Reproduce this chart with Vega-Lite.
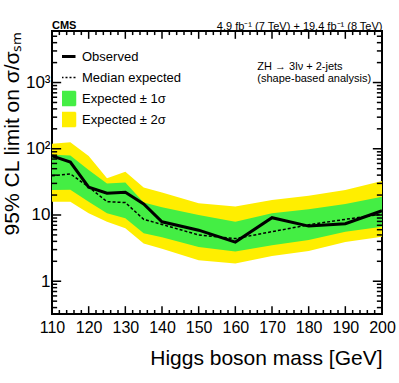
{
  "$schema": "https://vega.github.io/schema/vega-lite/v6.json",
  "width": 330,
  "height": 283,
  "autosize": "none",
  "padding": {"left": 52, "top": 31, "right": 17, "bottom": 69},
  "background": "white",
  "config": {
    "font": "Liberation Sans",
    "view": {"stroke": "black", "strokeWidth": 2},
    "axis": {"grid": false, "domain": false, "ticks": false, "labelColor": "black", "titleColor": "black", "labelFont": "Liberation Sans", "titleFont": "Liberation Sans", "titleFontWeight": "normal", "labelOverlap": false, "labelFlush": false}
  },
  "title": {"text": "CMS", "anchor": "start", "frame": "group", "fontSize": 11, "fontWeight": "bold", "font": "Liberation Sans", "offset": -11, "color": "black"},
  "datasets": {
    "bands": [
      {"mass": 110, "obs": 78, "exp": 39, "lo1": 23.9, "hi1": 81, "lo2": 15.9, "hi2": 119},
      {"mass": 115, "obs": 63, "exp": 41.8, "lo1": 24, "hi1": 79, "lo2": 15.9, "hi2": 125},
      {"mass": 120, "obs": 26.3, "exp": 26.5, "lo1": 15.9, "hi1": 48, "lo2": 10.6, "hi2": 78},
      {"mass": 125, "obs": 21.3, "exp": 15.9, "lo1": 10.6, "hi1": 30, "lo2": 7.9, "hi2": 36},
      {"mass": 130, "obs": 22.1, "exp": 15.4, "lo1": 8.9, "hi1": 31, "lo2": 6.3, "hi2": 45},
      {"mass": 135, "obs": 14.7, "exp": 8.6, "lo1": 5.3, "hi1": 15.4, "lo2": 3.7, "hi2": 26},
      {"mass": 140, "obs": 7.9, "exp": 7.2, "lo1": 4.6, "hi1": 13.1, "lo2": 3.1, "hi2": 21.8},
      {"mass": 150, "obs": 5.9, "exp": 5.0, "lo1": 3.3, "hi1": 10, "lo2": 2.08, "hi2": 15},
      {"mass": 160, "obs": 3.9, "exp": 4.4, "lo1": 2.8, "hi1": 7.9, "lo2": 1.85, "hi2": 13.4},
      {"mass": 170, "obs": 9.1, "exp": 5.6, "lo1": 3.5, "hi1": 10.6, "lo2": 2.4, "hi2": 16.9},
      {"mass": 180, "obs": 6.8, "exp": 7.1, "lo1": 4.2, "hi1": 12.2, "lo2": 2.85, "hi2": 19.6},
      {"mass": 190, "obs": 7.4, "exp": 8.6, "lo1": 5.6, "hi1": 14.7, "lo2": 3.9, "hi2": 23.9},
      {"mass": 200, "obs": 11.6, "exp": 10.3, "lo1": 6.65, "hi1": 18.9, "lo2": 4.7, "hi2": 32.7}
    ],
    "xmajor": [{"v": 110}, {"v": 120}, {"v": 130}, {"v": 140}, {"v": 150}, {"v": 160}, {"v": 170}, {"v": 180}, {"v": 190}, {"v": 200}],
    "xminor": [{"v": 112}, {"v": 114}, {"v": 116}, {"v": 118}, {"v": 122}, {"v": 124}, {"v": 126}, {"v": 128}, {"v": 132}, {"v": 134}, {"v": 136}, {"v": 138}, {"v": 142}, {"v": 144}, {"v": 146}, {"v": 148}, {"v": 152}, {"v": 154}, {"v": 156}, {"v": 158}, {"v": 162}, {"v": 164}, {"v": 166}, {"v": 168}, {"v": 172}, {"v": 174}, {"v": 176}, {"v": 178}, {"v": 182}, {"v": 184}, {"v": 186}, {"v": 188}, {"v": 192}, {"v": 194}, {"v": 196}, {"v": 198}],
    "ymajor": [{"v": 1}, {"v": 10}, {"v": 100}, {"v": 1000}],
    "yminor": [{"v": 0.4}, {"v": 0.5}, {"v": 0.6}, {"v": 0.7}, {"v": 0.8}, {"v": 0.9}, {"v": 2}, {"v": 3}, {"v": 4}, {"v": 5}, {"v": 6}, {"v": 7}, {"v": 8}, {"v": 9}, {"v": 20}, {"v": 30}, {"v": 40}, {"v": 50}, {"v": 60}, {"v": 70}, {"v": 80}, {"v": 90}, {"v": 200}, {"v": 300}, {"v": 400}, {"v": 500}, {"v": 600}, {"v": 700}, {"v": 800}, {"v": 900}, {"v": 2000}, {"v": 3000}, {"v": 4000}, {"v": 5000}]
  },
  "resolve": {"axis": {"x": "independent"}},
  "layer": [
    {
      "data": {"name": "bands"},
      "mark": {"type": "area", "color": "#ffee00", "opacity": 1},
      "encoding": {
        "x": {"field": "mass", "type": "quantitative", "scale": {"domain": [110, 200], "nice": false, "zero": false},
          "axis": {"orient": "bottom", "values": [110, 120, 130, 140, 150, 160, 170, 180, 190, 200], "labelPadding": 5, "labelFontSize": 16, "title": "Higgs boson mass [GeV]", "titleFontSize": 21, "titleAnchor": "end", "titlePadding": 12}},
        "y": {"field": "lo2", "type": "quantitative", "scale": {"type": "log", "domain": [0.32, 6000], "nice": false},
          "axis": {"orient": "left", "values": [1, 10, 100, 1000], "labelPadding": 2, "labelFontSize": 17,
            "labelExpr": "datum.value == 1 ? '1' : datum.value == 10 ? '10' : datum.value == 100 ? '10²' : '10³'",
            "title": "95% CL limit on σ/σₛₘ", "titleFontSize": 21, "titleAnchor": "end", "titlePadding": 3}},
        "y2": {"field": "hi2"}
      }
    },
    {
      "data": {"name": "bands"},
      "mark": {"type": "area", "color": "#44ee44", "opacity": 1},
      "encoding": {
        "x": {"field": "mass", "type": "quantitative", "axis": null},
        "y": {"field": "lo1", "type": "quantitative"},
        "y2": {"field": "hi1"}
      }
    },
    {
      "mark": {"type": "rule", "color": "#cc0000", "strokeWidth": 1},
      "encoding": {"y": {"datum": 1, "type": "quantitative"}}
    },
    {
      "data": {"name": "bands"},
      "mark": {"type": "line", "color": "black", "strokeWidth": 1.5, "strokeDash": [3, 2]},
      "encoding": {
        "x": {"field": "mass", "type": "quantitative",
          "axis": {"orient": "top", "values": [110], "labels": false, "title": "4.9 fb⁻¹ (7 TeV) + 19.4 fb⁻¹ (8 TeV)", "titleFontSize": 11, "titleAnchor": "end", "titlePadding": 0}},
        "y": {"field": "exp", "type": "quantitative"}
      }
    },
    {
      "data": {"name": "bands"},
      "mark": {"type": "line", "strokeWidth": 3},
      "encoding": {
        "x": {"field": "mass", "type": "quantitative", "axis": null},
        "y": {"field": "obs", "type": "quantitative"},
        "color": {"datum": "Observed", "type": "nominal",
          "scale": {"domain": ["Observed", "Median expected", "Expected ± 1σ", "Expected ± 2σ"], "range": ["black", "black", "#44ee44", "#ffee00"]},
          "legend": {"title": null, "orient": "none", "legendX": 10, "legendY": 15, "labelFontSize": 13, "labelFont": "Liberation Sans", "labelColor": "black", "symbolSize": 196, "rowPadding": 0, "clipHeight": 21, "labelOffset": 7,
            "encode": {"symbols": {"update": {
              "shape": {"signal": "datum.value == 'Observed' || datum.value == 'Median expected' ? 'stroke' : 'square'"},
              "fill": {"signal": "datum.value == 'Expected ± 1σ' ? '#44ee44' : datum.value == 'Expected ± 2σ' ? '#ffee00' : 'transparent'"},
              "stroke": {"signal": "datum.value == 'Expected ± 1σ' || datum.value == 'Expected ± 2σ' ? 'transparent' : 'black'"},
              "strokeWidth": {"signal": "datum.value == 'Observed' ? 3 : 1.5"},
              "strokeDash": {"signal": "datum.value == 'Median expected' ? [2, 2] : [1, 0]"},
              "opacity": {"value": 1}
            }}}}}
      }
    },
    {
      "data": {"values": [{"note": "ZH → 3lν + 2-jets\n(shape-based analysis)"}]},
      "mark": {"type": "text", "align": "left", "baseline": "top", "fontSize": 11, "font": "Liberation Sans", "color": "black", "lineHeight": 12, "lineBreak": "\n"},
      "encoding": {
        "x": {"datum": 166, "type": "quantitative", "axis": null},
        "y": {"datum": 2100, "type": "quantitative"},
        "text": {"field": "note", "type": "nominal"}
      }
    },
    {
      "data": {"name": "xmajor"},
      "mark": {"type": "rule", "color": "black", "strokeWidth": 1.5},
      "encoding": {"x": {"field": "v", "type": "quantitative", "axis": null}, "y": {"datum": 0.32, "type": "quantitative"}, "y2": {"datum": 0.42}}
    },
    {
      "data": {"name": "xmajor"},
      "mark": {"type": "rule", "color": "black", "strokeWidth": 1.5},
      "encoding": {"x": {"field": "v", "type": "quantitative", "axis": null}, "y": {"datum": 6000, "type": "quantitative"}, "y2": {"datum": 4570}}
    },
    {
      "data": {"name": "xminor"},
      "mark": {"type": "rule", "color": "black", "strokeWidth": 1.5},
      "encoding": {"x": {"field": "v", "type": "quantitative", "axis": null}, "y": {"datum": 0.32, "type": "quantitative"}, "y2": {"datum": 0.368}}
    },
    {
      "data": {"name": "xminor"},
      "mark": {"type": "rule", "color": "black", "strokeWidth": 1.5},
      "encoding": {"x": {"field": "v", "type": "quantitative", "axis": null}, "y": {"datum": 6000, "type": "quantitative"}, "y2": {"datum": 5210}}
    },
    {
      "data": {"name": "ymajor"},
      "mark": {"type": "rule", "color": "black", "strokeWidth": 1.5},
      "encoding": {"y": {"field": "v", "type": "quantitative"}, "x": {"datum": 110, "type": "quantitative", "axis": null}, "x2": {"datum": 112.5}}
    },
    {
      "data": {"name": "ymajor"},
      "mark": {"type": "rule", "color": "black", "strokeWidth": 1.5},
      "encoding": {"y": {"field": "v", "type": "quantitative"}, "x": {"datum": 200, "type": "quantitative", "axis": null}, "x2": {"datum": 197.5}}
    },
    {
      "data": {"name": "yminor"},
      "mark": {"type": "rule", "color": "black", "strokeWidth": 1.5},
      "encoding": {"y": {"field": "v", "type": "quantitative"}, "x": {"datum": 110, "type": "quantitative", "axis": null}, "x2": {"datum": 111.4}}
    },
    {
      "data": {"name": "yminor"},
      "mark": {"type": "rule", "color": "black", "strokeWidth": 1.5},
      "encoding": {"y": {"field": "v", "type": "quantitative"}, "x": {"datum": 200, "type": "quantitative", "axis": null}, "x2": {"datum": 198.6}}
    }
  ]
}
